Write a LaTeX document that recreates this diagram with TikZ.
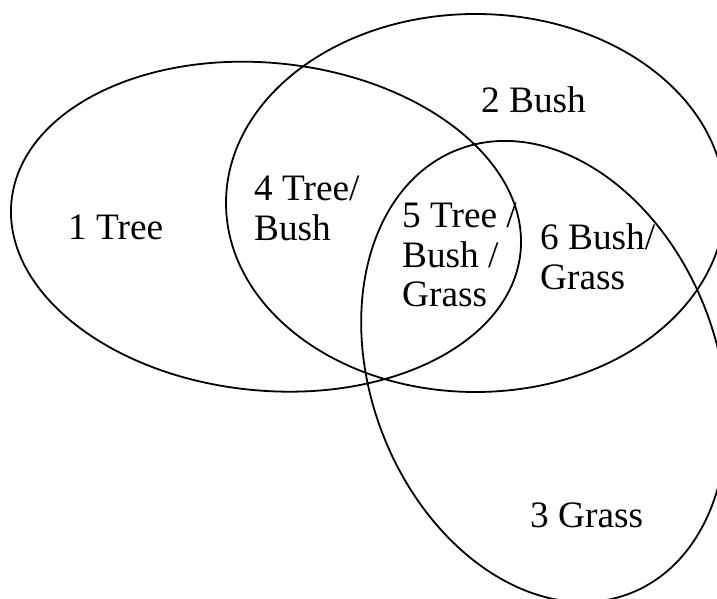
\documentclass[tikz,border=0pt]{standalone}
\usepackage{fontspec}
\setmainfont{Liberation Serif}
\tikzset{
  setline/.style={draw=black, line width=1.8pt},
  lbl/.style={anchor=base west, inner sep=0pt, font=\fontsize{37.3}{39.5}\selectfont}
}
\begin{document}
\begin{tikzpicture}[x=1pt,y=1pt]
\useasboundingbox (0,0) rectangle (717,599);
\clip (0,0) rectangle (717,599);
% Tree
\draw[setline] (266,372.3) ellipse [x radius=255.8, y radius=163.8, rotate=-5.76];
% Bush
\draw[setline] (475.5,396) ellipse [x radius=249.5, y radius=189];
% Grass
\draw[setline] (544,227.5) ellipse [x radius=238, y radius=173, rotate=-68.8];
\node[lbl] (n1) at (68,359) {1 Tree};
\node[lbl] (n4) at (254,398) {\begin{tabular}[t]{@{}l@{}}4 Tree/\\Bush\end{tabular}};
\node[lbl] (n2) at (481,486) {2 Bush};
\node[lbl] (n5) at (402,371) {\begin{tabular}[t]{@{}l@{}}5 Tree /\\Bush /\\Grass\end{tabular}};
\node[lbl] (n6) at (540,349) {\begin{tabular}[t]{@{}l@{}}6 Bush/\\Grass\end{tabular}};
\node[lbl] (n3) at (530,71) {3 Grass};
\end{tikzpicture}
\end{document}
